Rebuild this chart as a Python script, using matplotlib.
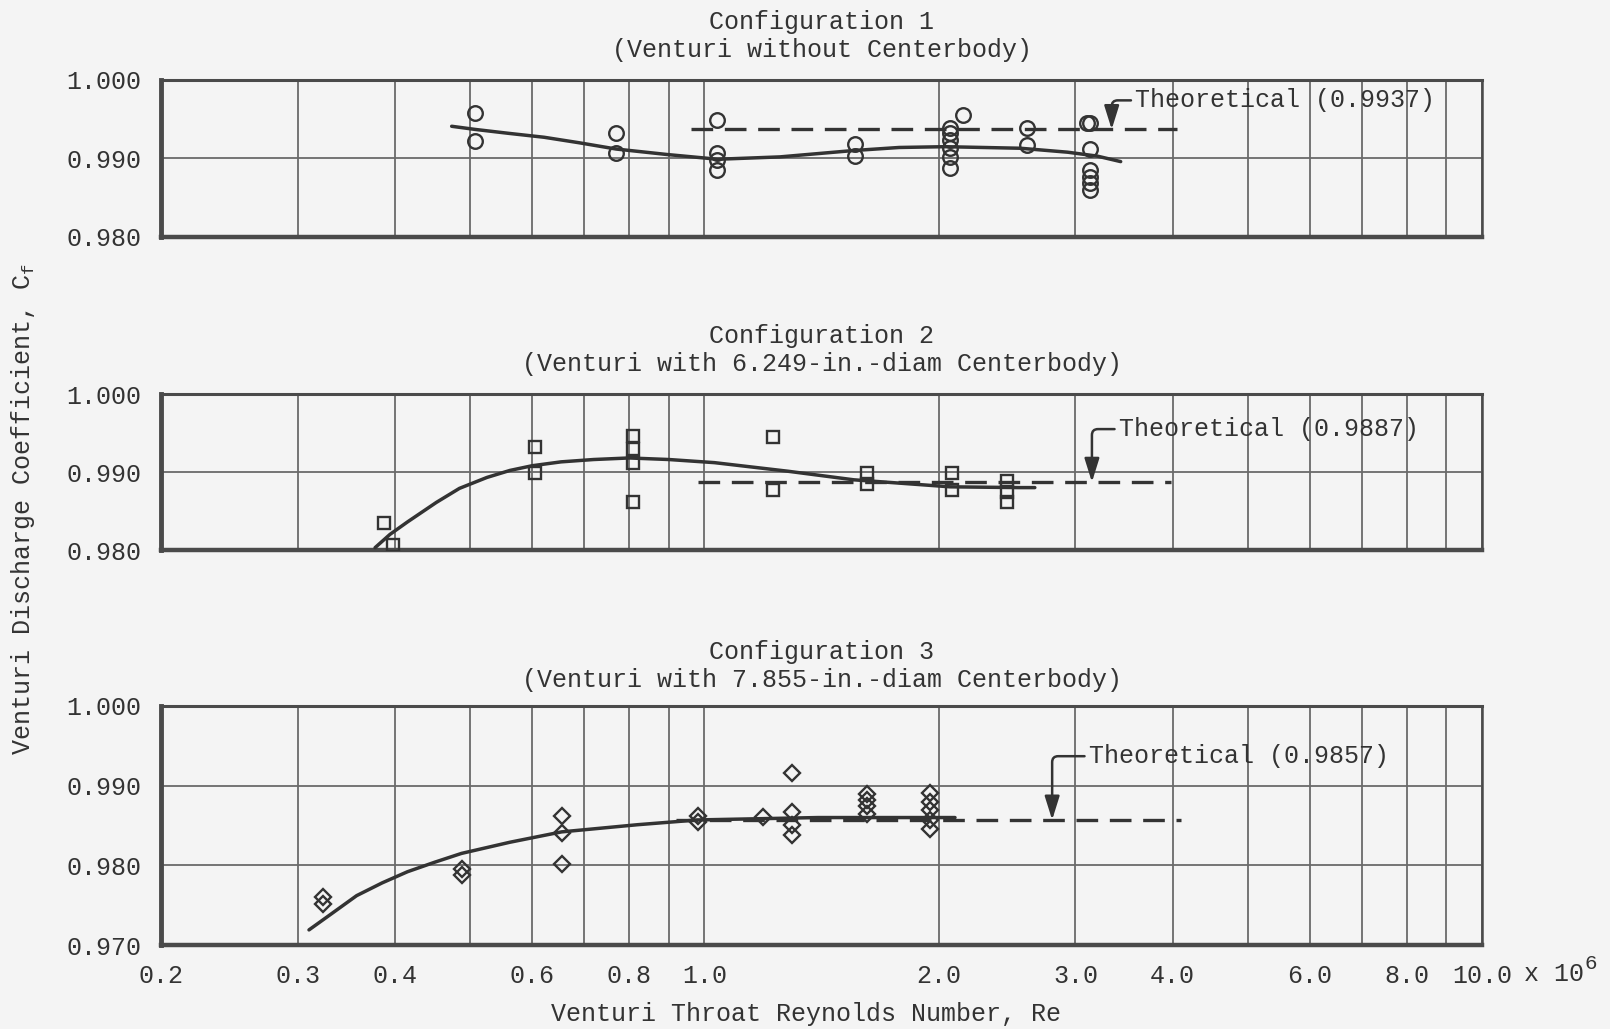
import matplotlib.pyplot as plt

plt.rcParams['font.family'] = ['Liberation Mono', 'DejaVu Sans Mono']
plt.rcParams['mathtext.fontset'] = 'custom'
plt.rcParams['mathtext.rm'] = 'Liberation Mono'
plt.rcParams['mathtext.it'] = 'Liberation Mono'

ink = '#333333'
bg = '#f4f4f4'

# Configuration 1 - circles
re1 = [0.507, 0.507, 0.77, 0.77, 1.037, 1.037, 1.037, 1.037, 1.56, 1.56,
       2.07, 2.07, 2.07, 2.07, 2.07, 2.07, 2.15, 2.6, 2.6,
       3.10, 3.13, 3.13, 3.13, 3.13, 3.13, 3.13]
cf1 = [0.9958, 0.9922, 0.9932, 0.9907, 0.9949, 0.9907, 0.9898, 0.9885, 0.9918, 0.9903,
       0.9939, 0.9933, 0.9924, 0.9913, 0.9902, 0.9888, 0.9955, 0.9939, 0.9917,
       0.9945, 0.9945, 0.9912, 0.9885, 0.9876, 0.9869, 0.9860]
fit1_re = [0.473, 0.507, 0.56, 0.622, 0.69, 0.77, 0.896, 1.04, 1.25, 1.55, 1.78, 2.04,
           2.55, 2.93, 3.2, 3.43]
fit1_cf = [0.9941, 0.9937, 0.9932, 0.9927, 0.9920, 0.9912, 0.9905, 0.9899, 0.9902, 0.9910,
           0.9914, 0.9915, 0.9913, 0.9908, 0.9903, 0.9896]

# Configuration 2 - squares
re2 = [0.387, 0.398, 0.605, 0.605, 0.81, 0.81, 0.81, 0.81, 1.226, 1.226,
       1.62, 1.62, 2.08, 2.08, 2.45, 2.45, 2.45]
cf2 = [0.9834, 0.9807, 0.9932, 0.9899, 0.9946, 0.9929, 0.9911, 0.9861, 0.9945, 0.9877,
       0.9899, 0.9884, 0.9899, 0.9877, 0.9888, 0.9875, 0.9862]
fit2_re = [0.377, 0.394, 0.415, 0.452, 0.484, 0.525, 0.562, 0.60, 0.654, 0.72, 0.80,
           0.90, 1.03, 1.28, 1.556, 2.07, 2.54, 2.66]
fit2_cf = [0.9803, 0.9820, 0.9836, 0.9861, 0.9879, 0.9893, 0.9902, 0.9908, 0.9913, 0.9916,
           0.9918, 0.9916, 0.9912, 0.9901, 0.9890, 0.9881, 0.9880, 0.9880]

# Configuration 3 - diamonds
re3 = [0.323, 0.323, 0.487, 0.487, 0.655, 0.655, 0.655, 0.98, 0.98, 1.19,
       1.296, 1.296, 1.296, 1.296, 1.62, 1.62, 1.62, 1.62, 1.95, 1.95, 1.95, 1.95, 1.95]
cf3 = [0.9760, 0.9751, 0.9796, 0.9788, 0.9862, 0.9841, 0.9802, 0.9862, 0.9855, 0.9861,
       0.9916, 0.9867, 0.9851, 0.9838, 0.9889, 0.9882, 0.9874, 0.9864,
       0.9891, 0.9879, 0.9870, 0.9857, 0.9845]
fit3_re = [0.31, 0.33, 0.357, 0.385, 0.415, 0.45, 0.487, 0.562, 0.655, 0.82, 0.98, 1.4, 2.1]
fit3_cf = [0.9719, 0.9738, 0.9762, 0.9778, 0.9792, 0.9804, 0.9815, 0.9829, 0.9842, 0.9851,
           0.9857, 0.9860, 0.9860]

# theoretical values and the span of the dashed lines
theory = [0.9937, 0.9887, 0.9857]
theory_span = [(0.96, 4.05), (0.98, 3.98), (0.92, 4.1)]
theory_text_pos = [(3.58, 0.9974), (3.41, 0.9955), (3.12, 0.9937)]
theory_arrow_x = [3.34, 3.15, 2.80]

titles = ['Configuration 1\n(Venturi without Centerbody)',
          'Configuration 2\n(Venturi with 6.249-in.-diam Centerbody)',
          'Configuration 3\n(Venturi with 7.855-in.-diam Centerbody)']

x_ticks = [0.2, 0.3, 0.4, 0.5, 0.6, 0.7, 0.8, 0.9, 1, 2, 3, 4, 5, 6, 7, 8, 9, 10]
x_labels = ['0.2', '0.3', '0.4', '', '0.6', '', '0.8', '', '1.0',
            '2.0', '3.0', '4.0', '', '6.0', '', '8.0', '', '10.0']

fig = plt.figure(figsize=(16.1, 10.29), dpi=100, facecolor=bg)
ax1 = fig.add_axes([0.1, 0.7697, 0.8205, 0.1526])
ax2 = fig.add_axes([0.1, 0.4655, 0.8205, 0.1516])
ax3 = fig.add_axes([0.1, 0.0816, 0.8205, 0.2323])
axes = [ax1, ax2, ax3]

data = [(re1, cf1, 'o', fit1_re, fit1_cf),
        (re2, cf2, 's', fit2_re, fit2_cf),
        (re3, cf3, 'D', fit3_re, fit3_cf)]
msizes = {'o': 10.5, 's': 9, 'D': 8.5}
title_offset = [13, 13, 10]

for i, ax in enumerate(axes):
    re, cf, mk, fre, fcf = data[i]
    ax.set_facecolor(bg)
    ax.set_xscale('log')
    ax.set_xlim(0.2, 10)
    if i == 2:
        ax.set_ylim(0.970, 1.000)
        ax.set_yticks([0.970, 0.980, 0.990, 1.000])
    else:
        ax.set_ylim(0.980, 1.000)
        ax.set_yticks([0.980, 0.990, 1.000])
    ax.yaxis.set_major_formatter(plt.FuncFormatter(lambda v, p: '%.3f' % v))
    ax.set_xticks(x_ticks)
    ax.minorticks_off()
    if i == 2:
        ax.set_xticklabels(x_labels)
    else:
        ax.set_xticklabels([])
    ax.grid(True, color='#6a6a6a', lw=1.3)
    ax.set_axisbelow(True)
    ax.tick_params(length=0, pad=14, labelsize=18, colors=ink)

    ax.spines['left'].set_linewidth(3.5)
    ax.spines['bottom'].set_linewidth(3.2)
    ax.spines['top'].set_linewidth(2.2)
    ax.spines['right'].set_linewidth(1.8)
    for s in ax.spines.values():
        s.set_color('#4a4a4a')

    # fair curve
    ax.plot(fre, fcf, color=ink, lw=2.5, zorder=3, solid_capstyle='round',
            solid_joinstyle='round')
    # theoretical line
    lo, hi = theory_span[i]
    ax.plot([lo, hi], [theory[i], theory[i]], color=ink, lw=2.4,
            dashes=(6.5, 3.5), zorder=3)
    # data points
    ax.plot(re, cf, ls='none', marker=mk, ms=msizes[mk], mfc='none',
            mec=ink, mew=1.7, zorder=4)

    tx, ty = theory_text_pos[i]
    ax.annotate('Theoretical (%.4f)' % theory[i], xy=(theory_arrow_x[i], theory[i]),
                xytext=(tx, ty), ha='left', va='center', fontsize=18, color=ink,
                arrowprops=dict(arrowstyle='-|>,head_length=0.8,head_width=0.25',
                                connectionstyle='angle,angleA=0,angleB=90,rad=6',
                                color=ink, lw=1.8, shrinkA=1, shrinkB=0))

    ax.annotate(titles[i], xy=(0.5, 1.0), xycoords='axes fraction',
                xytext=(0, title_offset[i]), textcoords='offset points',
                ha='center', va='bottom', fontsize=18, color=ink, linespacing=1.2)

ax3.annotate('x 10', xy=(1.0, 0.0), xycoords='axes fraction',
             xytext=(30, -26), textcoords='offset points',
             ha='left', va='baseline', fontsize=18, color=ink)
ax3.annotate('6', xy=(1.0, 0.0), xycoords='axes fraction',
             xytext=(74, -17), textcoords='offset points',
             ha='left', va='baseline', fontsize=15, color=ink)

fig.text(0.014, 0.505, 'Venturi Discharge Coefficient, C$_f$', rotation=90,
         ha='center', va='center', fontsize=18, color=ink)
fig.text(0.5006, 0.0141, 'Venturi Throat Reynolds Number, Re',
         ha='center', va='center', fontsize=18, color=ink)

plt.savefig('out.png', dpi=100, facecolor=bg)
